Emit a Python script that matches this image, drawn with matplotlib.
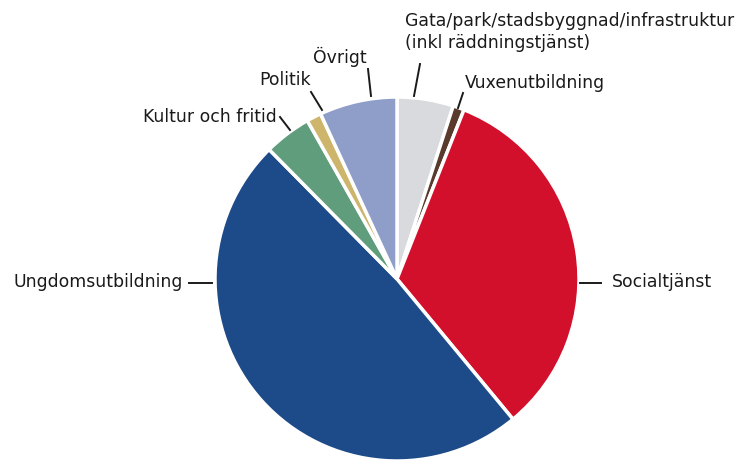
import matplotlib.pyplot as plt

# andelar (procent), medurs från kl 12
kategorier = ["Gata/park/stadsbyggnad/infrastruktur\n(inkl räddningstjänst)",
              "Vuxenutbildning", "Socialtjänst", "Ungdomsutbildning",
              "Kultur och fritid", "Politik", "Övrigt"]
andelar = [5.0, 1.0, 33.0, 48.6, 4.2, 1.3, 6.9]
farger = ["#d9dadd", "#5b3a2e", "#d3102c", "#1d4a88", "#5f9d7c", "#cdb56c", "#8e9ec8"]

W, H = 744, 461
fig = plt.figure(figsize=(W / 100, H / 100), dpi=100)
ax = fig.add_axes([0, 0, 1, 1])

cx, cy, r = 397, H - 279, 182
ax.pie(andelar, colors=farger, startangle=90, counterclock=False,
       center=(cx, cy), radius=r, frame=True,
       wedgeprops=dict(edgecolor='white', linewidth=2.5))
ax.set_xlim(0, W)
ax.set_ylim(0, H)
ax.set_aspect('equal')
ax.axis('off')

# etiketter med ledarlinjer (pixelpositioner, y uppifrån)
def etikett(text, tx, ty, linje, ha='left', va='center'):
    ax.text(tx, H - ty, text, ha=ha, va=va, fontsize=12.4, color='#1a1a1a',
            linespacing=1.35)
    (x1, y1), (x2, y2) = linje
    ax.plot([x1, x2], [H - y1, H - y2], color='#1a1a1a', lw=1.4)

etikett(kategorier[0], 405, 32, ((420, 64), (414, 96)))
etikett(kategorier[1], 465, 83, ((463, 93), (458, 108)))
etikett(kategorier[2], 612, 282, ((580, 283), (601, 283)))
etikett(kategorier[3], 183, 282, ((189, 283), (212, 283)), ha='right')
etikett(kategorier[4], 277, 117, ((280, 117), (290, 130)), ha='right')
etikett(kategorier[5], 285, 80, ((311, 92), (322, 110)), ha='center')
etikett(kategorier[6], 340, 57, ((368, 69), (371, 96)), ha='center')

fig.savefig("out.png", dpi=100, facecolor='white')
